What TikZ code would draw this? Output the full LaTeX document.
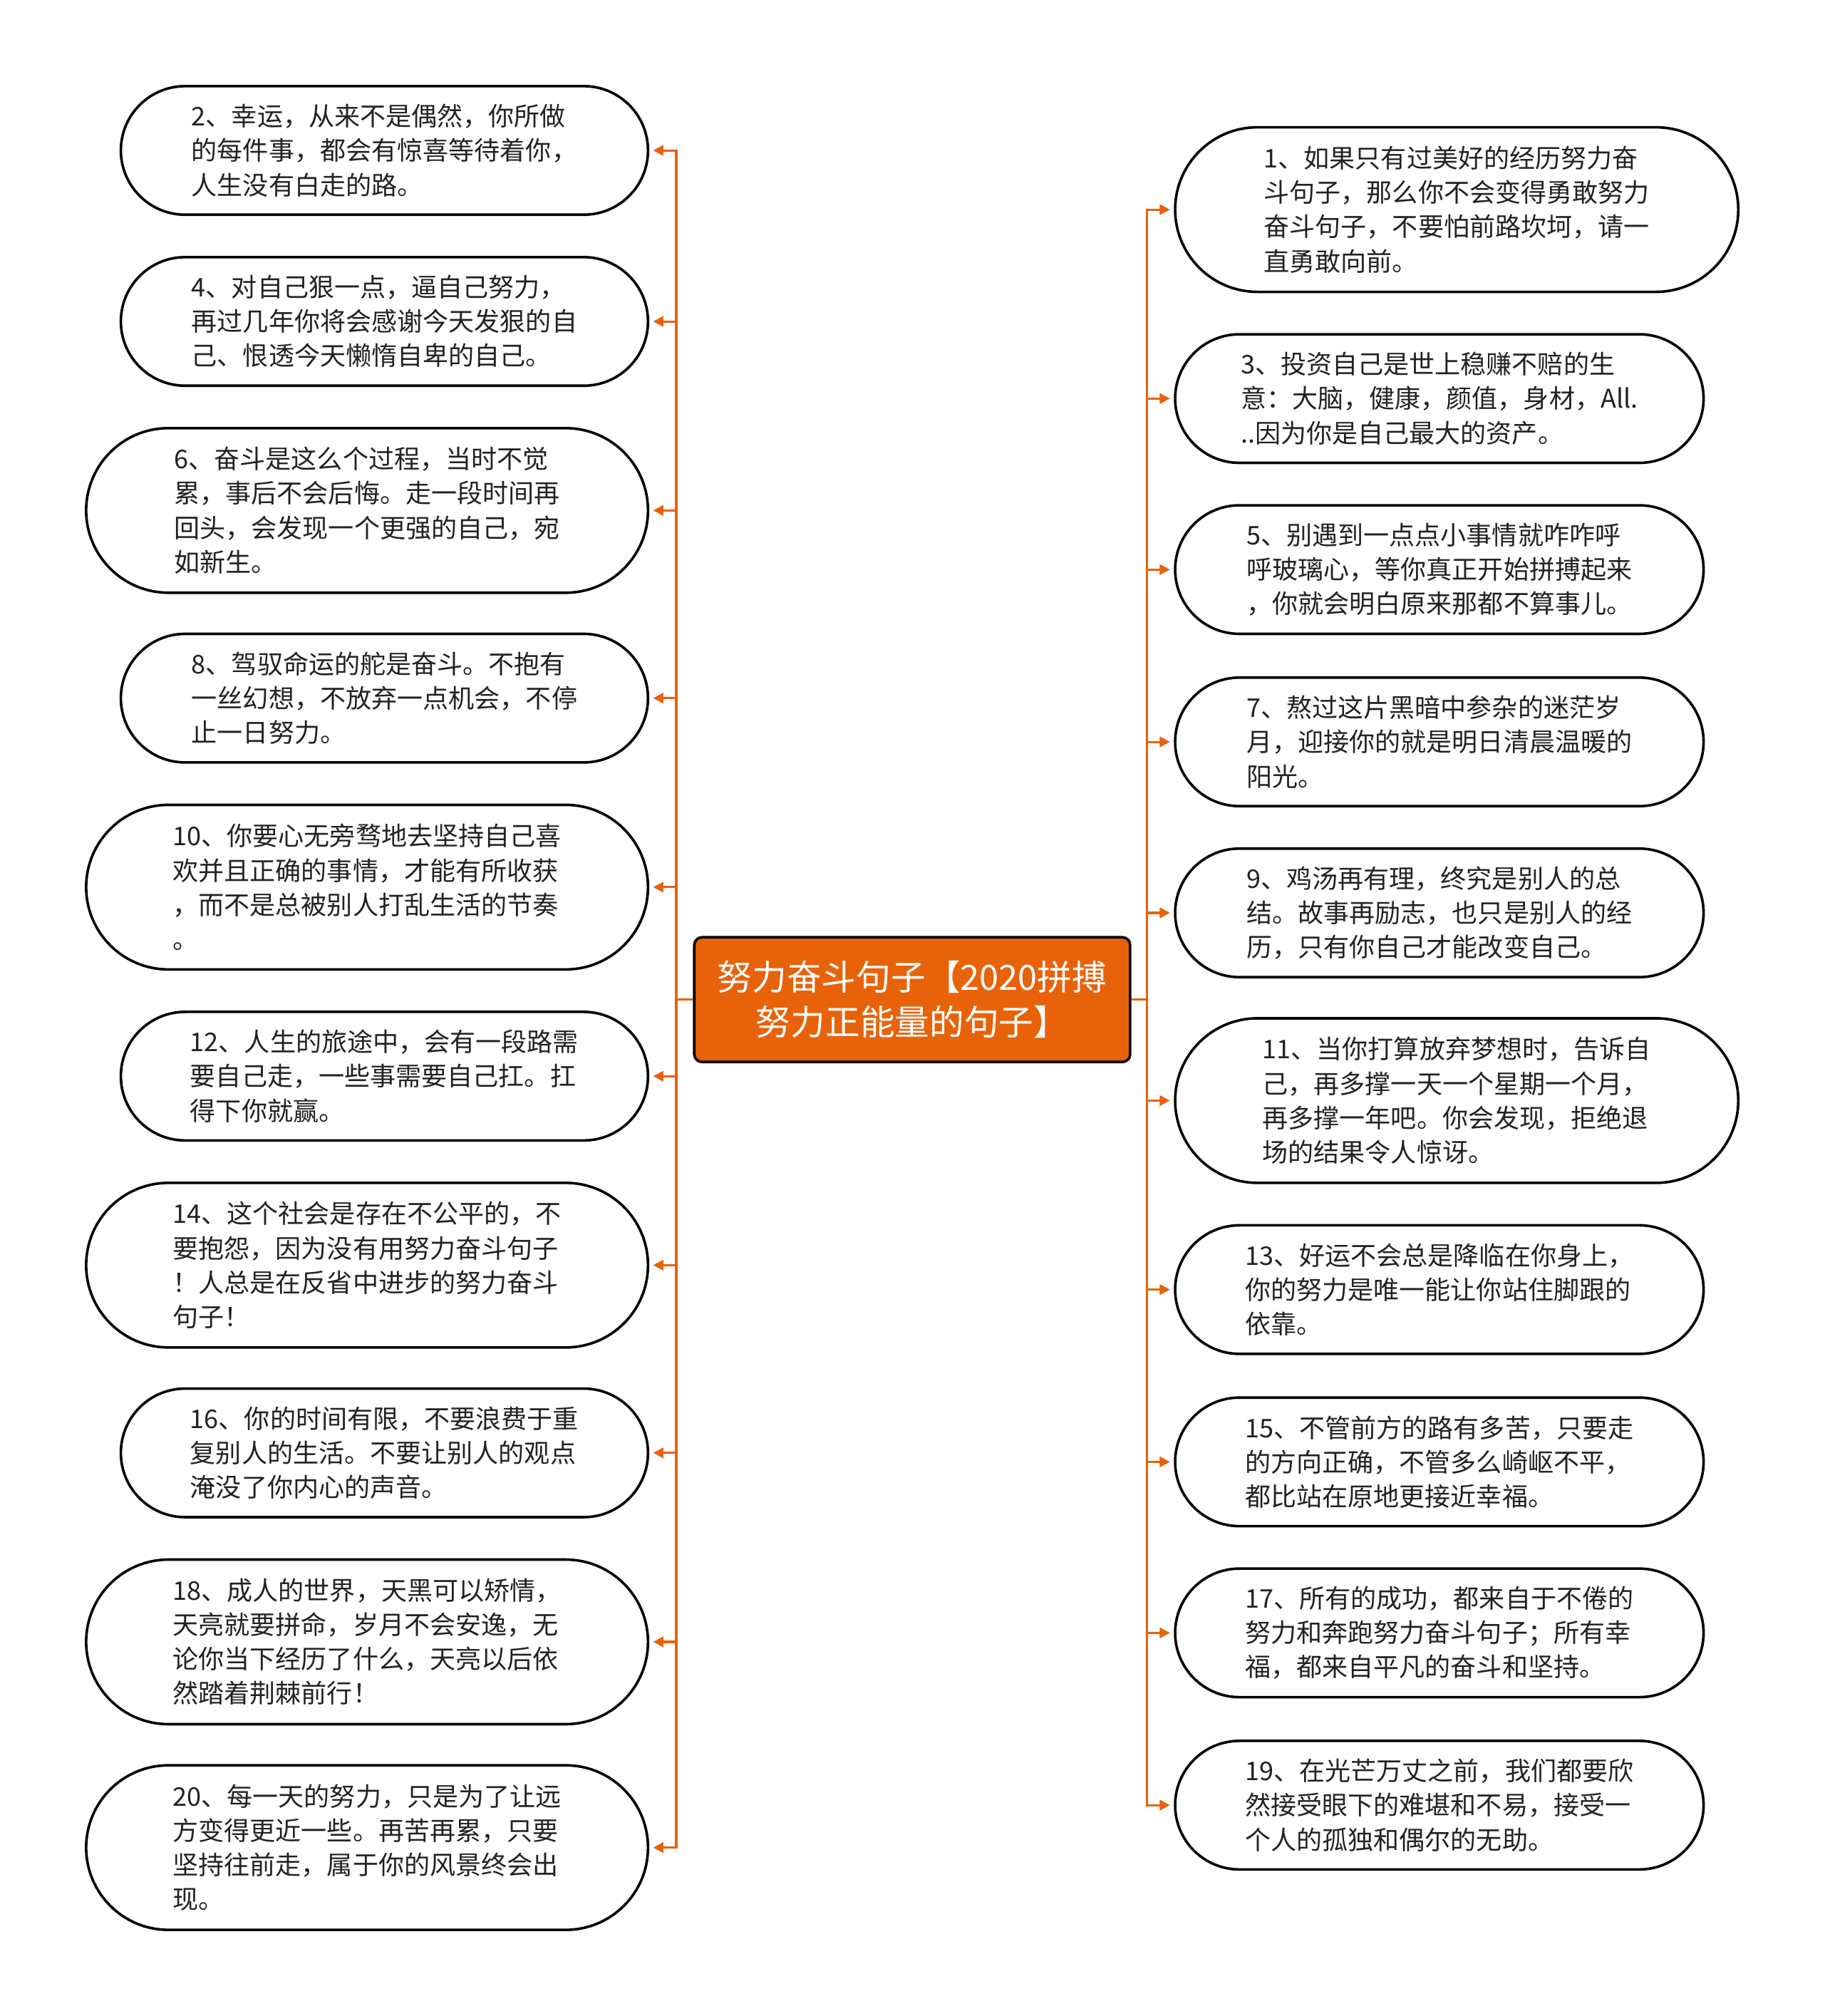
\documentclass[tikz,border=0pt]{standalone}
\usepackage{fontspec}
\setmainfont{Noto Sans CJK SC}
\usetikzlibrary{shapes.misc,arrows.meta}
\definecolor{rootorange}{RGB}{232,98,10}
\definecolor{quotetext}{RGB}{34,34,34}
\begin{document}
\begin{tikzpicture}[x=1pt, y=-1pt,
  quote/.style={rounded rectangle, draw=black, line width=2pt, fill=white,
    inner xsep=0pt, inner ysep=2pt, align=left, text=quotetext,
    font=\fontsize{20pt}{26.7pt}\selectfont},
  short/.style={quote, minimum width=410pt, minimum height=100pt},
  tall/.style={quote, minimum width=437pt, minimum height=128pt},
  root/.style={rectangle, rounded corners=6pt, draw=black, line width=2pt,
    fill=rootorange, text=white, align=center, minimum width=339pt,
    minimum height=97pt, font=\fontsize{27pt}{35pt}\selectfont},
  link/.style={draw=rootorange, line width=1.7pt, shorten >=3pt,
    -{Triangle[length=8pt,width=8pt]}}]
  \useasboundingbox (0,0) rectangle (1419,1568);
  \node[root] (root) at (709.5,777.5) {努力奋斗句子【2020拼搏\\努力正能量的句子】};
  % left side
  \node[short] (l2) at (299,117) {2、幸运，从来不是偶然，你所做\\的每件事，都会有惊喜等待着你，\\人生没有白走的路。};
  \node[short] (l4) at (299,250) {4、对自己狠一点，逼自己努力，\\再过几年你将会感谢今天发狠的自\\己、恨透今天懒惰自卑的自己。};
  \node[tall] (l6) at (285.5,397) {6、奋斗是这么个过程，当时不觉\\累，事后不会后悔。走一段时间再\\回头，会发现一个更强的自己，宛\\如新生。};
  \node[short] (l8) at (299,543) {8、驾驭命运的舵是奋斗。不抱有\\一丝幻想，不放弃一点机会，不停\\止一日努力。};
  \node[tall] (l10) at (285.5,690) {10、你要心无旁骛地去坚持自己喜\\欢并且正确的事情，才能有所收获\\，而不是总被别人打乱生活的节奏\\。};
  \node[short] (l12) at (299,837) {12、人生的旅途中，会有一段路需\\要自己走，一些事需要自己扛。扛\\得下你就赢。};
  \node[tall] (l14) at (285.5,984) {14、这个社会是存在不公平的，不\\要抱怨，因为没有用努力奋斗句子\\！人总是在反省中进步的努力奋斗\\句子！};
  \node[short] (l16) at (299,1130) {16、你的时间有限，不要浪费于重\\复别人的生活。不要让别人的观点\\淹没了你内心的声音。};
  \node[tall] (l18) at (285.5,1277) {18、成人的世界，天黑可以矫情，\\天亮就要拼命，岁月不会安逸，无\\论你当下经历了什么，天亮以后依\\然踏着荆棘前行！};
  \node[tall] (l20) at (285.5,1437) {20、每一天的努力，只是为了让远\\方变得更近一些。再苦再累，只要\\坚持往前走，属于你的风景终会出\\现。};
  % right side
  \node[tall, minimum width=438pt] (r1) at (1133,163) {1、如果只有过美好的经历努力奋\\斗句子，那么你不会变得勇敢努力\\奋斗句子，不要怕前路坎坷，请一\\直勇敢向前。};
  \node[short, minimum width=411pt] (r3) at (1119.5,310) {3、投资自己是世上稳赚不赔的生\\意：大脑，健康，颜值，身材，All.\\..因为你是自己最大的资产。};
  \node[short, minimum width=411pt] (r5) at (1119.5,443) {5、别遇到一点点小事情就咋咋呼\\呼玻璃心，等你真正开始拼搏起来\\，你就会明白原来那都不算事儿。};
  \node[short, minimum width=411pt] (r7) at (1119.5,577) {7、熬过这片黑暗中参杂的迷茫岁\\月，迎接你的就是明日清晨温暖的\\阳光。};
  \node[short, minimum width=411pt] (r9) at (1119.5,710) {9、鸡汤再有理，终究是别人的总\\结。故事再励志，也只是别人的经\\历，只有你自己才能改变自己。};
  \node[tall, minimum width=438pt] (r11) at (1133,856) {11、当你打算放弃梦想时，告诉自\\己，再多撑一天一个星期一个月，\\再多撑一年吧。你会发现，拒绝退\\场的结果令人惊讶。};
  \node[short, minimum width=411pt] (r13) at (1119.5,1003) {13、好运不会总是降临在你身上，\\你的努力是唯一能让你站住脚跟的\\依靠。};
  \node[short, minimum width=411pt] (r15) at (1119.5,1137) {15、不管前方的路有多苦，只要走\\的方向正确，不管多么崎岖不平，\\都比站在原地更接近幸福。};
  \node[short, minimum width=411pt] (r17) at (1119.5,1270) {17、所有的成功，都来自于不倦的\\努力和奔跑努力奋斗句子；所有幸\\福，都来自平凡的奋斗和坚持。};
  \node[short, minimum width=411pt] (r19) at (1119.5,1404) {19、在光芒万丈之前，我们都要欣\\然接受眼下的难堪和不易，接受一\\个人的孤独和偶尔的无助。};
  % connectors
  \foreach \n in {l2,l4,l6,l8,l10,l12,l14,l16,l18,l20}
    \draw[link] (root.west) -- ++(-13pt,0) |- (\n.east);
  \foreach \n in {r1,r3,r5,r7,r9,r11,r13,r15,r17,r19}
    \draw[link] (root.east) -- ++(12pt,0) |- (\n.west);
\end{tikzpicture}
\end{document}
